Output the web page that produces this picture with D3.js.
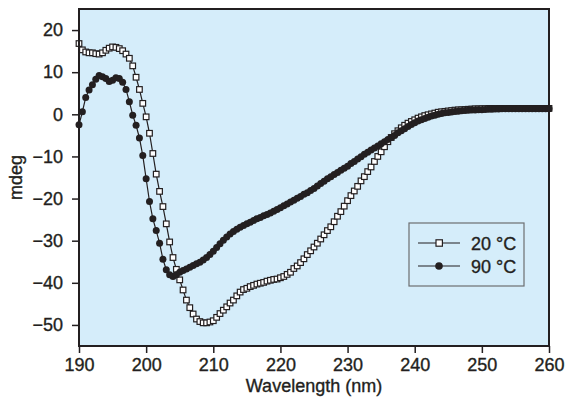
<!DOCTYPE html>
<html>
<head>
<meta charset="utf-8">
<script src="https://cdn.jsdelivr.net/npm/d3@7"></script>
<style>
  body { margin: 0; background: #fff; }
  text { font-family: "Liberation Sans", Arial, sans-serif; fill: #231f20; stroke: #231f20; stroke-width: 0.35px; }
</style>
</head>
<body>
<svg width="565" height="404"></svg>
<script>
// CD spectra, one reading every 0.5 nm from 190 to 260 nm
let startNm = 190;
let stepNm = 0.5;

let cd20 = [
  16.8, 15.3, 14.8, 14.6, 14.6, 14.4, 14.3, 14.6, 15.2, 15.7,
  16.0, 15.9, 15.6, 15.1, 14.3, 13.3, 11.5, 8.8, 5.9, 2.6,
  -0.6, -4.5, -9.3, -14.2, -18.3, -21.9, -26.0, -30.3, -34.0, -36.8,
  -39.3, -41.7, -44.1, -45.9, -47.4, -48.6, -49.2, -49.5, -49.5, -49.3,
  -49.0, -48.2, -47.3, -46.5, -45.7, -44.8, -44.1, -43.1, -42.2, -41.6,
  -41.3, -40.9, -40.6, -40.3, -40.1, -39.9, -39.6, -39.4, -39.2, -39.1,
  -38.8, -38.5, -38.0, -37.5, -36.6, -36.0, -35.2, -34.3, -33.3, -32.4,
  -31.5, -30.6, -29.6, -28.6, -27.6, -26.7, -25.5, -24.2, -23.1, -21.8,
  -20.5, -19.3, -18.2, -17.1, -15.8, -14.8, -13.6, -12.5, -11.2, -10.0,
  -8.9, -7.7, -6.5, -5.5, -4.6, -3.9, -3.2, -2.6, -2.1, -1.7,
  -1.3, -0.9, -0.6, -0.3, -0.1, 0.1, 0.3, 0.5, 0.6, 0.7,
  0.8, 0.9, 1.0, 1.05, 1.1, 1.15, 1.2, 1.25, 1.3, 1.3,
  1.35, 1.35, 1.4, 1.4, 1.4, 1.4, 1.4, 1.4, 1.4, 1.4,
  1.4, 1.4, 1.4, 1.4, 1.4, 1.4, 1.4, 1.4, 1.4, 1.4, 1.4
];

let cd90 = [
  -2.5, 0.6, 4.0, 5.8, 7.0, 8.3, 9.2, 8.9, 8.5, 7.8,
  8.1, 8.7, 8.5, 7.6, 5.9, 3.0, -0.2, -2.6, -5.6, -9.8,
  -15.3, -20.7, -24.8, -27.6, -30.6, -34.4, -36.9, -38.1, -38.5, -38.1,
  -37.5, -37.1, -36.7, -36.3, -35.9, -35.5, -35.1, -34.6, -34.0, -33.3,
  -32.5, -31.6, -30.7, -29.9, -29.1, -28.4, -27.8, -27.3, -26.8, -26.4,
  -26.0, -25.6, -25.2, -24.8, -24.5, -24.1, -23.8, -23.4, -23.0, -22.6,
  -22.2, -21.7, -21.3, -20.8, -20.4, -19.9, -19.5, -19.0, -18.6, -18.1,
  -17.6, -17.0, -16.4, -15.9, -15.3, -14.8, -14.3, -13.8, -13.3, -12.8,
  -12.3, -11.7, -11.2, -10.6, -10.1, -9.5, -9.0, -8.5, -8.0, -7.5,
  -7.0, -6.5, -6.0, -5.5, -5.0, -4.4, -3.9, -3.4, -2.9, -2.4,
  -2.0, -1.6, -1.3, -1.0, -0.7, -0.4, -0.2, 0.0, 0.2, 0.35,
  0.45, 0.55, 0.65, 0.75, 0.85, 0.9, 0.95, 1.0, 1.05, 1.1,
  1.1, 1.15, 1.2, 1.2, 1.25, 1.25, 1.3, 1.3, 1.3, 1.3,
  1.3, 1.3, 1.3, 1.3, 1.3, 1.3, 1.3, 1.3, 1.3, 1.3, 1.3
];

let xTicks = [190, 200, 210, 220, 230, 240, 250, 260];
let yTicks = [20, 10, 0, -10, -20, -30, -40, -50];
let seriesNames = ["20 °C", "90 °C"];

let ink = "#231f20";
let bg = "#d5edfa";

let margin = {left: 79, top: 9, right: 16, bottom: 58};
let width = 565 - margin.left - margin.right;
let height = 404 - margin.top - margin.bottom;

let svg = d3.select("svg");
let chart = svg.append("g").attr("transform", `translate(${margin.left}, ${margin.top})`);

let x = d3.scaleLinear().domain([190, 260]).range([0, width]);
let y = d3.scaleLinear().domain([-55, 25]).range([height, 0]);

chart.append("rect").attr("width", width).attr("height", height).attr("fill", bg);

let points = (vals) => vals.map((v, i) => ({nm: startNm + i * stepNm, v: v}));
let line = d3.line().x(d => x(d.nm)).y(d => y(d.v));

// 20 C: open squares
let p20 = points(cd20);
chart.append("path").datum(p20).attr("d", line)
  .attr("fill", "none").attr("stroke", ink).attr("stroke-width", 1.2);
chart.selectAll(".sq").data(p20).enter().append("rect").attr("class", "sq")
  .attr("x", d => x(d.nm) - 2.8).attr("y", d => y(d.v) - 2.8)
  .attr("width", 5.6).attr("height", 5.6)
  .attr("fill", "#fff").attr("stroke", ink).attr("stroke-width", 1.2);

// 90 C: filled circles
let p90 = points(cd90);
chart.append("path").datum(p90).attr("d", line)
  .attr("fill", "none").attr("stroke", ink).attr("stroke-width", 1.2);
chart.selectAll(".dot").data(p90).enter().append("circle").attr("class", "dot")
  .attr("cx", d => x(d.nm)).attr("cy", d => y(d.v)).attr("r", 3.5)
  .attr("fill", ink);

// frame
chart.append("rect").attr("width", width).attr("height", height)
  .attr("fill", "none").attr("stroke", ink).attr("stroke-width", 2);

let xAxis = chart.append("g").attr("transform", `translate(0, ${height})`)
  .call(d3.axisBottom(x).tickValues(xTicks).tickSize(7).tickPadding(5).tickFormat(d3.format("d")));
let yAxis = chart.append("g")
  .call(d3.axisLeft(y).tickValues(yTicks).tickSize(7).tickPadding(9));

[xAxis, yAxis].forEach(a => {
  a.select(".domain").remove();
  a.selectAll("line").attr("stroke", ink).attr("stroke-width", 1.5);
  a.selectAll("text").attr("font-size", 18).attr("font-family", null).style("fill", ink);
});

chart.append("text").attr("x", width / 2).attr("y", height + 46)
  .attr("text-anchor", "middle").attr("font-size", 18).text("Wavelength (nm)");
svg.append("text").attr("transform", `translate(22, ${margin.top + height / 2}) rotate(-90)`)
  .attr("text-anchor", "middle").attr("font-size", 18).text("mdeg");

// legend
let legend = chart.append("g").attr("transform", `translate(${409 - margin.left}, ${223 - margin.top})`);
legend.append("rect").attr("width", 115).attr("height", 63)
  .attr("fill", bg).attr("stroke", "#6d6e70").attr("stroke-width", 1.2);
seriesNames.forEach((name, i) => {
  let ly = 20 + i * 23;
  legend.append("line").attr("x1", 9).attr("x2", 51).attr("y1", ly).attr("y2", ly)
    .attr("stroke", ink).attr("stroke-width", 1.2);
  if (i === 0) {
    legend.append("rect").attr("x", 27).attr("y", ly - 3.2).attr("width", 6.4).attr("height", 6.4)
      .attr("fill", "#fff").attr("stroke", ink).attr("stroke-width", 1.2);
  } else {
    legend.append("circle").attr("cx", 30).attr("cy", ly).attr("r", 3.8).attr("fill", ink);
  }
  legend.append("text").attr("x", 62).attr("y", ly + 6.5).attr("font-size", 18).text(name);
});
</script>
</body>
</html>
